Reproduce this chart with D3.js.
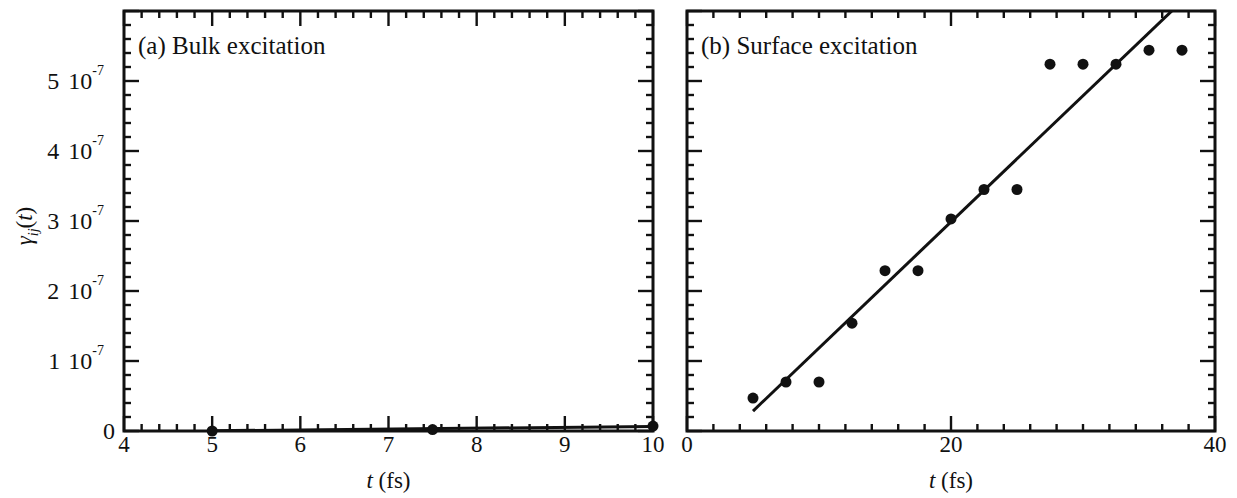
<!DOCTYPE html>
<html>
<head>
<meta charset="utf-8">
<script src="https://cdn.jsdelivr.net/npm/d3@7"></script>
<style>
  body { margin: 0; background: #fff; }
  text { font-family: "Liberation Serif", "Times New Roman", serif; fill: #111; }
</style>
</head>
<body>
<svg width="1237" height="498"></svg>
<script>
// data
var bulkT = [5, 7.5, 10];
var bulkGamma = [0, 0.02e-7, 0.07e-7];
var bulkFitT = [5, 10];
var bulkFitGamma = [0.003e-7, 0.065e-7];

var surfT = [5, 7.5, 10, 12.5, 15, 17.5, 20, 22.5, 25, 27.5, 30, 32.5, 35, 37.5];
var surfGamma = [0.47e-7, 0.70e-7, 0.70e-7, 1.54e-7, 2.29e-7, 2.29e-7, 3.03e-7,
                 3.45e-7, 3.45e-7, 5.24e-7, 5.24e-7, 5.24e-7, 5.44e-7, 5.44e-7];
var surfFitT = [5, 37.5];
var surfFitGamma = [0.285e-7, 6.14e-7];

var yTicks = [0, 1e-7, 2e-7, 3e-7, 4e-7, 5e-7];
var yMantissa = ["0", "1", "2", "3", "4", "5"];
var bulkXTicks = [4, 5, 6, 7, 8, 9, 10];
var surfXTicks = [0, 20, 40];

var svg = d3.select("svg");
var top_ = 11, bottom = 431;
var majorLen = 15, minorLen = 7;

var y = d3.scaleLinear().domain([0, 6e-7]).range([bottom, top_]);

function drawPanel(p) {
    var x = d3.scaleLinear().domain(p.xDomain).range([p.left, p.right]);
    var g = svg.append("g");

    g.append("clipPath").attr("id", p.id + "-clip")
        .append("rect")
        .attr("x", p.left).attr("y", top_)
        .attr("width", p.right - p.left).attr("height", bottom - top_);

    var xMinor = d3.range(p.xDomain[0], p.xDomain[1] + 1e-9, p.xMinorStep);
    var yMinor = d3.range(0, 6e-7 + 1e-12, 0.2e-7);
    var isMajorX = function (v) { return p.xTicks.some(function (t) { return Math.abs(t - v) < 1e-6; }); };
    var isMajorY = function (v) { return Math.abs(v / 1e-7 - Math.round(v / 1e-7)) < 1e-3; };

    var ticks = g.append("g").attr("stroke", "#111").attr("stroke-width", 2.4);
    xMinor.forEach(function (v) {
        var len = isMajorX(v) ? majorLen : minorLen;
        ticks.append("line").attr("x1", x(v)).attr("x2", x(v)).attr("y1", bottom).attr("y2", bottom - len);
        ticks.append("line").attr("x1", x(v)).attr("x2", x(v)).attr("y1", top_).attr("y2", top_ + len);
    });
    yMinor.forEach(function (v) {
        var len = isMajorY(v) ? majorLen : minorLen;
        ticks.append("line").attr("y1", y(v)).attr("y2", y(v)).attr("x1", p.left).attr("x2", p.left + len);
        ticks.append("line").attr("y1", y(v)).attr("y2", y(v)).attr("x1", p.right).attr("x2", p.right - len);
    });

    g.append("rect")
        .attr("x", p.left).attr("y", top_)
        .attr("width", p.right - p.left).attr("height", bottom - top_)
        .attr("fill", "none").attr("stroke", "#111").attr("stroke-width", 3);

    // x tick labels
    g.selectAll(".xl").data(p.xTicks).enter().append("text")
        .attr("x", function (d) { return x(d); })
        .attr("y", 452)
        .attr("text-anchor", "middle")
        .style("font-size", "23px")
        .text(function (d) { return d; });

    // x title
    var xt = g.append("text")
        .attr("x", (p.left + p.right) / 2).attr("y", 488)
        .attr("text-anchor", "middle")
        .style("font-size", "23px");
    xt.append("tspan").style("font-style", "italic").text("t");
    xt.append("tspan").text(" (fs)");

    // panel label
    g.append("text")
        .attr("x", p.left + 14).attr("y", 54)
        .style("font-size", "25px")
        .text(p.label);

    // fit line
    var line = d3.line().x(function (d) { return x(d[0]); }).y(function (d) { return y(d[1]); });
    g.append("path")
        .datum(d3.zip(p.fitT, p.fitGamma))
        .attr("clip-path", "url(#" + p.id + "-clip)")
        .attr("d", line)
        .attr("fill", "none").attr("stroke", "#111").attr("stroke-width", 3);

    // points
    g.selectAll("circle").data(d3.zip(p.t, p.gamma)).enter().append("circle")
        .attr("cx", function (d) { return x(d[0]); })
        .attr("cy", function (d) { return y(d[1]); })
        .attr("r", 5.5)
        .attr("fill", "#111");

    return x;
}

drawPanel({
    id: "a", left: 124, right: 653, xDomain: [4, 10], xMinorStep: 0.2,
    xTicks: bulkXTicks, t: bulkT, gamma: bulkGamma,
    fitT: bulkFitT, fitGamma: bulkFitGamma, label: "(a) Bulk excitation"
});
drawPanel({
    id: "b", left: 687, right: 1215, xDomain: [0, 40], xMinorStep: 2,
    xTicks: surfXTicks, t: surfT, gamma: surfGamma,
    fitT: surfFitT, fitGamma: surfFitGamma, label: "(b) Surface excitation"
});

// y tick labels on the left panel only
yTicks.forEach(function (v, i) {
    if (i === 0) {
        svg.append("text")
            .attr("x", 115).attr("y", y(v) + 8)
            .attr("text-anchor", "end")
            .style("font-size", "24px")
            .text(yMantissa[i]);
        return;
    }
    var t = svg.append("text")
        .attr("x", 104).attr("y", y(v) + 8)
        .attr("text-anchor", "end")
        .style("font-size", "24px");
    t.append("tspan").text(yMantissa[i]);
    t.append("tspan").attr("dx", 9).text("10");
    t.append("tspan").attr("dy", -14).style("font-size", "14px").text("-7");
});

// y title
var yt = svg.append("text")
    .attr("transform", "translate(32,226) rotate(-90)")
    .attr("text-anchor", "middle")
    .style("font-size", "23px");
yt.append("tspan").style("font-style", "italic").text("γ");
yt.append("tspan").attr("dy", 6).style("font-style", "italic").style("font-size", "14px").text("ij");
yt.append("tspan").attr("dy", -6).text("(");
yt.append("tspan").style("font-style", "italic").text("t");
yt.append("tspan").text(")");
</script>
</body>
</html>
